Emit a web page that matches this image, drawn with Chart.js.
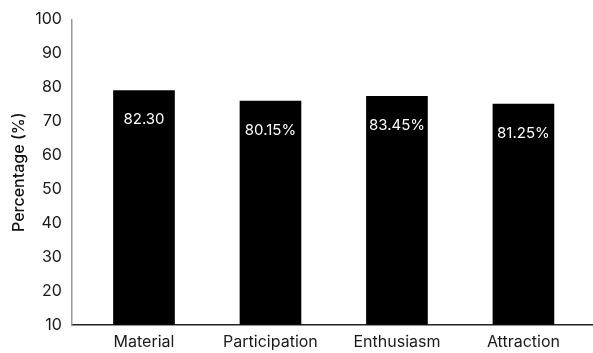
<!DOCTYPE html>
<html>
<head>
<meta charset="utf-8">
<script src="https://cdn.jsdelivr.net/npm/chart.js@4/dist/chart.umd.min.js"></script>
<style>
  html, body { margin: 0; padding: 0; background: #fff; }
  #wrap { position: relative; width: 593px; height: 353px; }
</style>
</head>
<body>
<div id="wrap"><canvas id="chart"></canvas></div>
<script>
// Categories and bar heights
const categories = ['Material', 'Participation', 'Enthusiasm', 'Attraction'];
const barValues = [79.1, 76.0, 77.4, 75.1];
// Text printed inside each bar (as shown in the reference)
const barLabels = ['82.30', '80.15%', '83.45%', '81.25%'];
const yTicks = [10, 20, 30, 40, 50, 60, 70, 80, 90, 100];

const FONT = 'Inter, "Noto Sans", sans-serif';

// Writes the label inside each bar, a little below its top.
const innerLabels = {
    id: 'innerLabels',
    afterDatasetsDraw(chart) {
        const ctx = chart.ctx;
        const meta = chart.getDatasetMeta(0);
        ctx.save();
        ctx.fillStyle = '#ffffff';
        ctx.font = '15px ' + FONT;
        ctx.textAlign = 'center';
        ctx.textBaseline = 'middle';
        meta.data.forEach((bar, i) => {
            ctx.fillText(barLabels[i], bar.x, bar.y + 29);
        });
        ctx.restore();
    }
};

new Chart(document.getElementById('chart'), {
    type: 'bar',
    data: {
        datasets: [{
            data: barValues.map((v, i) => ({ x: i, y: v })),
            backgroundColor: '#000000',
            borderWidth: 0,
            barThickness: 61
        }]
    },
    options: {
        responsive: true,
        maintainAspectRatio: false,
        animation: false,
        layout: { padding: { top: 8, right: 0, left: 10, bottom: -7 } },
        plugins: {
            legend: { display: false },
            tooltip: { enabled: false }
        },
        scales: {
            x: {
                type: 'linear',
                offset: false,
                min: -0.57,
                max: 3.55,
                grid: { display: false, drawTicks: false },
                border: { color: '#222', width: 1.5 },
                afterBuildTicks: (axis) => {
                    axis.ticks = categories.map((c, i) => ({ value: i }));
                },
                ticks: {
                    padding: 8,
                    color: '#1a1a1a',
                    font: { family: FONT, size: 16 },
                    callback: (v) => categories[v] ?? ''
                }
            },
            y: {
                min: 10,
                max: 100,
                grid: { display: false, drawTicks: false },
                border: { color: '#999', width: 1.5 },
                afterBuildTicks: (axis) => {
                    axis.ticks = yTicks.map(v => ({ value: v }));
                },
                ticks: {
                    padding: 10,
                    color: '#1a1a1a',
                    font: { family: FONT, size: 16 }
                },
                title: {
                    display: true,
                    text: 'Percentage (%)',
                    color: '#111',
                    padding: { top: 0, bottom: -4 },
                    font: { family: FONT, size: 16, weight: '500' }
                }
            }
        }
    },
    plugins: [innerLabels]
});
</script>
</body>
</html>
